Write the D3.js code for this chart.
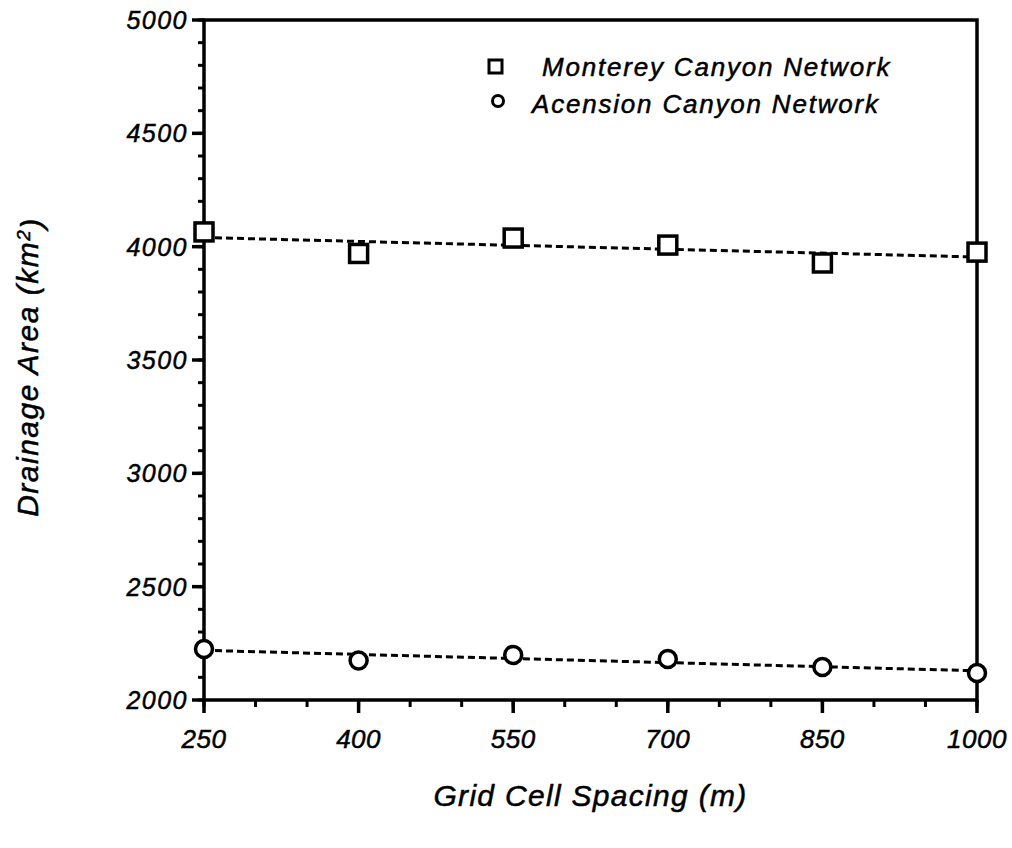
<!DOCTYPE html>
<html>
<head>
<meta charset="utf-8">
<script src="https://cdn.jsdelivr.net/npm/d3@7"></script>
<style>
  body { margin: 0; background: #fff; }
  text { font-family: "Liberation Sans", Arial, sans-serif; font-style: italic; fill: #000; stroke: #000; stroke-width: 0.5px; }
</style>
</head>
<body>
<div id="graphicContainer"></div>
<script>
// grid cell spacing (m)
const spacing = [250, 400, 550, 700, 850, 1000];
// drainage area (km^2)
const montereyArea = [4065, 3970, 4038, 4007, 3928, 3976];
const acensionArea = [2225, 2174, 2199, 2181, 2146, 2119];

const xTicks = [250, 400, 550, 700, 850, 1000];
const yTicks = [2000, 2500, 3000, 3500, 4000, 4500, 5000];
const seriesNames = ['Monterey Canyon Network', 'Acension Canyon Network'];

const Width = 1012, Height = 848;
const Margin = { t: 20, r: 35, b: 148, l: 204 };

const container = d3.select('#graphicContainer');
const svg = container.append('svg')
  .attr('width', Width)
  .attr('height', Height);

const x = d3.scaleLinear().domain([250, 1000]).range([Margin.l, Width - Margin.r]);
const y = d3.scaleLinear().domain([2000, 5000]).range([Height - Margin.b, Margin.t]);

// least squares fit for the dotted trend line
function fit(xs, ys) {
  const mx = d3.mean(xs), my = d3.mean(ys);
  const num = d3.sum(xs, (d, i) => (d - mx) * (ys[i] - my));
  const den = d3.sum(xs, d => (d - mx) * (d - mx));
  const b = num / den;
  return v => my + b * (v - mx);
}

// frame
svg.append('rect')
  .attr('x', x(250))
  .attr('y', y(5000))
  .attr('width', x(1000) - x(250))
  .attr('height', y(2000) - y(5000))
  .attr('fill', 'none')
  .attr('stroke', '#000')
  .attr('stroke-width', 3.5);

// y axis: major ticks every 500, minor every 100
const yAxis = svg.append('g').attr('class', 'yAxis');
yAxis.selectAll('.minor')
  .data(d3.range(2000, 5001, 100))
  .enter().append('line')
  .attr('x1', x(250) - 6).attr('x2', x(250))
  .attr('y1', d => y(d)).attr('y2', d => y(d))
  .attr('stroke', '#000').attr('stroke-width', 3);
yAxis.selectAll('.major')
  .data(yTicks)
  .enter().append('line')
  .attr('x1', x(250) - 12).attr('x2', x(250))
  .attr('y1', d => y(d)).attr('y2', d => y(d))
  .attr('stroke', '#000').attr('stroke-width', 3.5);
yAxis.selectAll('text')
  .data(yTicks)
  .enter().append('text')
  .attr('x', x(250) - 16)
  .attr('y', d => y(d))
  .attr('dy', '0.36em')
  .attr('text-anchor', 'end')
  .style('font-size', '25px')
  .style('letter-spacing', '1.5px')
  .text(d => d);

// x axis: major ticks every 150, minor every 50
const xAxis = svg.append('g').attr('class', 'xAxis');
xAxis.selectAll('.minor')
  .data(d3.range(250, 1001, 50))
  .enter().append('line')
  .attr('x1', d => x(d)).attr('x2', d => x(d))
  .attr('y1', y(2000)).attr('y2', y(2000) + 7)
  .attr('stroke', '#000').attr('stroke-width', 3);
xAxis.selectAll('.major')
  .data(xTicks)
  .enter().append('line')
  .attr('x1', d => x(d)).attr('x2', d => x(d))
  .attr('y1', y(2000)).attr('y2', y(2000) + 13)
  .attr('stroke', '#000').attr('stroke-width', 3.5);
xAxis.selectAll('text')
  .data(xTicks)
  .enter().append('text')
  .attr('x', d => x(d))
  .attr('y', y(2000) + 48)
  .attr('text-anchor', 'middle')
  .style('font-size', '26px')
  .style('letter-spacing', '0.5px')
  .text(d => d);

// axis titles
svg.append('text')
  .attr('x', (x(250) + x(1000)) / 2)
  .attr('y', 806)
  .attr('text-anchor', 'middle')
  .style('font-size', '30px')
  .style('letter-spacing', '1.3px')
  .text('Grid Cell Spacing (m)');

const yLabel = svg.append('text')
  .attr('transform', 'translate(38, 367) rotate(-90)')
  .attr('text-anchor', 'middle')
  .style('font-size', '30px')
  .style('letter-spacing', '1.5px');
yLabel.append('tspan').text('Drainage Area (km');
yLabel.append('tspan').attr('dy', '-0.4em').style('font-size', '19px').text('2');
yLabel.append('tspan').attr('dy', '0.4em').text(')');

// trend lines + markers
const series = [
  { name: seriesNames[0], values: montereyArea, shape: 'square' },
  { name: seriesNames[1], values: acensionArea, shape: 'circle' },
];

series.forEach(s => {
  const f = fit(spacing, s.values);
  svg.append('line')
    .attr('x1', x(250)).attr('y1', y(f(250)))
    .attr('x2', x(1000)).attr('y2', y(f(1000)))
    .attr('stroke', '#000')
    .attr('stroke-width', 3)
    .attr('stroke-dasharray', '7 4');

  const pts = svg.selectAll('.pt-' + s.shape)
    .data(spacing.map((d, i) => ({ x: d, y: s.values[i] })))
    .enter();
  if (s.shape === 'square') {
    pts.append('rect')
      .attr('x', d => x(d.x) - 9)
      .attr('y', d => y(d.y) - 9)
      .attr('width', 18).attr('height', 18)
      .attr('fill', '#fff').attr('stroke', '#000').attr('stroke-width', 3.5);
  } else {
    pts.append('circle')
      .attr('cx', d => x(d.x))
      .attr('cy', d => y(d.y))
      .attr('r', 8.5)
      .attr('fill', '#fff').attr('stroke', '#000').attr('stroke-width', 3.5);
  }
});

// legend
const legend = svg.append('g').attr('class', 'legend');
legend.append('rect')
  .attr('x', 489).attr('y', 60).attr('width', 13).attr('height', 13)
  .attr('fill', '#fff').attr('stroke', '#000').attr('stroke-width', 3);
legend.append('text')
  .attr('x', 542).attr('y', 76)
  .style('font-size', '26px')
  .style('letter-spacing', '1.8px')
  .text(seriesNames[0]);
legend.append('circle')
  .attr('cx', 498).attr('cy', 101).attr('r', 5.5)
  .attr('fill', '#fff').attr('stroke', '#000').attr('stroke-width', 3);
legend.append('text')
  .attr('x', 532).attr('y', 113)
  .style('font-size', '26px')
  .style('letter-spacing', '1.8px')
  .text(seriesNames[1]);
</script>
</body>
</html>
